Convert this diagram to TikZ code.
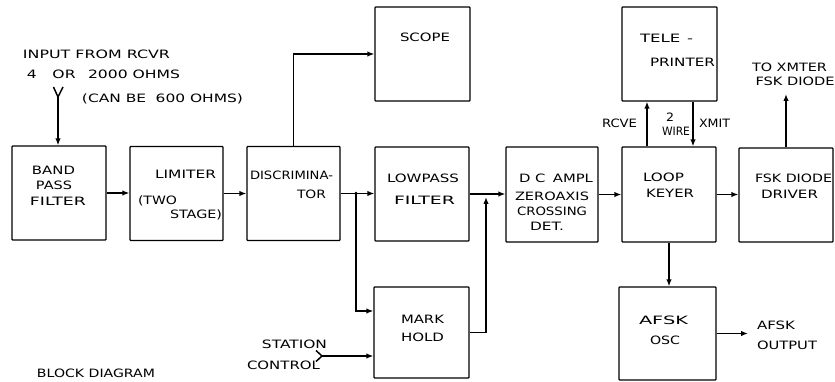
\documentclass[tikz,border=0pt]{standalone}
\usepackage{fontspec}
\setmainfont{DejaVu Sans}
\usepackage{graphicx}
\usetikzlibrary{arrows.meta,calc}
\newcommand\tx[2]{\resizebox{#1pt}{\height}{#2}}
\begin{document}
\begin{tikzpicture}[x=1pt,y=-1pt,
  blk/.style={draw, line width=1.25pt, minimum width=94pt, minimum height=94pt, inner sep=0pt, rounded corners=0.8pt},
  lab/.style={inner sep=0pt, font=\fontsize{11.5}{12}\selectfont, text height=8.4pt, text depth=0pt, anchor=center},
  wire/.style={line width=1.5pt},
  arr/.style={wire, -{Latex[length=7pt,width=5.5pt]}}]
\useasboundingbox (0,0) rectangle (835,382);

% boxes
\node[blk] (bpf) at (59,193) {};
\node[blk, minimum width=93pt] (lim) at (176.5,193.5) {};
\node[blk, minimum width=93pt] (disc) at (293.5,193.5) {};
\node[blk, minimum width=95pt] (scope) at (422.5,54) {};
\node[blk] (lpf) at (422,194) {};
\node[blk, minimum width=95pt, minimum height=91pt] (mark) at (421.5,332.5) {};
\node[blk, minimum width=92pt, minimum height=95pt] (dc) at (552,194.5) {};
\node[blk, minimum height=95pt] (loop) at (669,194.5) {};
\node[blk] (fsk) at (786,195) {};
\node[blk, minimum width=95pt] (tele) at (669.5,54) {};
\node[blk, minimum width=97pt, minimum height=93pt] (afsk) at (667.5,333.5) {};

% box texts
\node[lab] (tb1) at (53.5,170) {\tx{43}{BAND}};
\node[lab] (tb2) at (54,185) {\tx{36}{PASS}};
\node[lab] (tb3) at (58,201) {\tx{56}{FILTER}};
\node[lab] (tl1) at (185.5,174) {\tx{61}{LIMITER}};
\node[lab] (tl2) at (157.5,200) {\tx{39}{(TWO}};
\node[lab] (tl3) at (196,214) {\tx{52}{STAGE)}};
\node[lab] (td1) at (291.5,175) {\tx{83}{DISCRIMINA-}};
\node[lab] (td2) at (311.5,194) {\tx{29}{TOR}};
\node[lab] (ts1) at (425,37) {\tx{50}{SCOPE}};
\node[lab] (tp1) at (423,178) {\tx{72}{LOWPASS}};
\node[lab] (tp2) at (424.5,200) {\tx{61}{FILTER}};
\node[lab] (tm1) at (422.5,319) {\tx{43}{MARK}};
\node[lab] (tm2) at (422.5,337) {\tx{43}{HOLD}};
\node[lab] (tc1) at (556,178) {\tx{74}{D C\hspace{0.5em}AMPL}};
\node[lab] (tc2) at (552,196) {\tx{74}{ZEROAXIS}};
\node[lab] (tc3) at (552,211) {\tx{70}{CROSSING}};
\node[lab] (tc4) at (547,226) {\tx{34}{DET.}};
\node[lab] (tk1) at (663.5,177) {\tx{41}{LOOP}};
\node[lab] (tk2) at (670,193) {\tx{48}{KEYER}};
\node[lab] (tf1) at (793.5,178) {\tx{77}{FSK DIODE}};
\node[lab] (tf2) at (789.5,194) {\tx{57}{DRIVER}};
\node[lab] (tt1) at (666.5,38) {\tx{53}{TELE\hspace{0.4em}-}};
\node[lab] (tt2) at (682.5,62) {\tx{65}{PRINTER}};
\node[lab] (ta1) at (663.5,320) {\tx{49}{AFSK}};
\node[lab] (ta2) at (665,340) {\tx{30}{OSC}};

% free texts
\node[lab] (in1) at (96.5,54) {\tx{147}{INPUT FROM RCVR}};
\node[lab] (in2) at (103.5,74) {\tx{153}{4\hspace{1em}OR\hspace{0.8em}2000 OHMS}};
\node[lab] (in3) at (162.5,98) {\tx{161}{(CAN BE\hspace{0.3em} 600 OHMS)}};
\node[lab] (sc1) at (294.5,344) {\tx{65}{STATION}};
\node[lab] (sc2) at (283.5,365) {\tx{73}{CONTROL}};
\node[lab] (rc) at (619.5,123) {\tx{35}{RCVE}};
\node[lab] (w2) at (670,117) {\tx{8}{2}};
\node[lab] (w3) at (676,131) {\tx{28}{WIRE}};
\node[lab] (xm) at (714.5,123) {\tx{31}{XMIT}};
\node[lab] (to1) at (789.5,67) {\tx{75}{TO XMTER}};
\node[lab] (to2) at (795,81) {\tx{79}{FSK DIODE}};
\node[lab] (ao1) at (776,325) {\tx{38}{AFSK}};
\node[lab] (ao2) at (787,345) {\tx{60}{OUTPUT}};
\node[lab] (bd) at (96,373) {\tx{118}{BLOCK DIAGRAM}};

% coordinates
\coordinate (inY) at (58,97);
\coordinate (inL) at (53.5,87);
\coordinate (inR) at (63,87);
\coordinate (j1) at (356,193.5);
\coordinate (j2) at (486,197);
\coordinate (stc) at (322,356);
\coordinate (stU) at (316,350.5);
\coordinate (stD) at (316,361.5);
\coordinate (fskout) at (786,94);
\coordinate (afskout) at (748,335);

% connectors
\draw[wire] (inL) -- (inY) -- (inR);
\draw[arr] (inY) -- (inY |- bpf.north);
\draw[arr] (bpf.east) -- (bpf.east -| lim.west);
\draw[arr] (lim.east) -- (lim.east -| disc.west);
\draw[arr] (disc.north) |- (scope.west);
\draw[arr] (disc.east) -- (disc.east -| lpf.west);
\fill (j1) circle (1.8pt);
\draw[arr] (j1) |- ([yshift=21.5pt]mark.west);
\draw[wire] (stU) -- (stc) -- (stD);
\draw[arr] (stc) -- (stc -| mark.west);
\draw[arr] (mark.east) -| (j2);
\draw[arr] (lpf.east) -- (lpf.east -| dc.west);
\draw[arr] (dc.east) -- (dc.east -| loop.west);
\draw[arr] (loop.east) -- (loop.east -| fsk.west);
\draw[arr] ([xshift=-22pt]loop.north) -- ([xshift=-22pt]loop.north |- tele.south);
\draw[arr] ([xshift=24pt]loop.north |- tele.south) -- ([xshift=24pt]loop.north);
\draw[arr] (fsk.north) -- (fskout);
\draw[arr] (loop.south) -- (loop.south |- afsk.north);
\draw[arr] (afsk.east) -- (afsk.east -| afskout);
\end{tikzpicture}
\end{document}
